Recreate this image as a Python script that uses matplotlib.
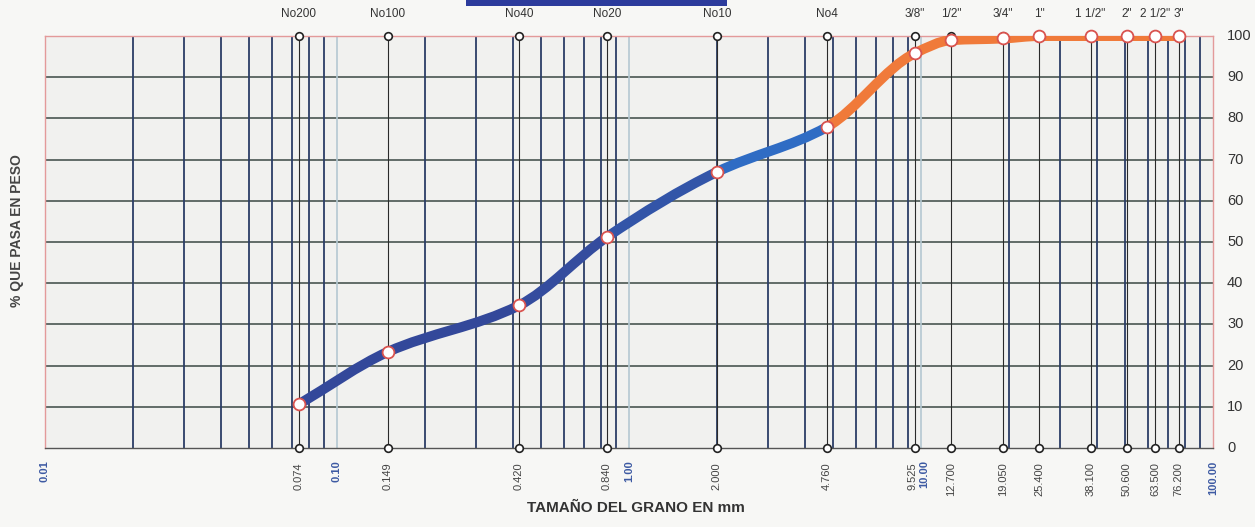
import numpy as np
import matplotlib
matplotlib.use("Agg")
import matplotlib.pyplot as plt
from matplotlib.path import Path
from matplotlib.patches import PathPatch, Rectangle
from matplotlib.transforms import blended_transform_factory, offset_copy

plt.rcParams['font.family'] = ['Liberation Sans', 'DejaVu Sans']

# Sieve openings (mm), sieve names and percent passing
sieve_mm = [0.074, 0.149, 0.420, 0.840, 2.000, 4.760, 9.525, 12.700,
            19.050, 25.400, 38.100, 50.600, 63.500, 76.200]
sieve_names = ['No200', 'No100', 'No40', 'No20', 'No10', 'No4', '3/8"', '1/2"',
               '3/4"', '1"', '1 1/2"', '2"', '2 1/2"', '3"']
sieve_tick_labels = ['0.074', '0.149', '0.420', '0.840', '2.000', '4.760', '9.525',
                     '12.700', '19.050', '25.400', '38.100', '50.600', '63.500', '76.200']
pct_passing = [10.6, 23.3, 34.6, 51.2, 67.0, 77.9, 95.8, 99.0,
               99.4, 100.0, 100.0, 100.0, 100.0, 100.0]
decades = [0.01, 0.1, 1.0, 10.0, 100.0]
decade_labels = ['0.01', '0.10', '1.00', '10.00', '100.00']
y_ticks = [0, 10, 20, 30, 40, 50, 60, 70, 80, 90, 100]

W, H = 1255, 527
fig = plt.figure(figsize=(W / 100, H / 100), dpi=100)
fig.patch.set_facecolor('#f7f7f5')
ax = fig.add_axes([45 / W, (H - 448) / H, (1213 - 45) / W, (448 - 36) / H])
ax.set_facecolor('#f1f1ef')
ax.set_xscale('log')
ax.set_xlim(0.01, 100)
ax.set_ylim(0, 100)

# horizontal grid
for yv in y_ticks[1:-1]:
    ax.axhline(yv, color='#4a5651', lw=1.2, zorder=1)

# minor log lines (2..9 in every decade) and light decade lines
for d in decades[:-1]:
    for k in range(2, 10):
        ax.axvline(d * k, color='#2b3d66', lw=1.3, zorder=1)
    if d > 0.01:
        ax.axvline(d, color='#b4c8d2', lw=1.2, zorder=1)

# sieve lines with end circles
for s in sieve_mm:
    ax.axvline(s, color='#2a2a2a', lw=0.8, zorder=2)
ax.plot(sieve_mm, [100] * len(sieve_mm), 'o', ms=5.5, mfc='white', mec='#222222',
        mew=1.2, zorder=6, clip_on=False)
ax.plot(sieve_mm, [0] * len(sieve_mm), 'o', ms=5.5, mfc='white', mec='#222222',
        mew=1.2, zorder=6, clip_on=False)

# smooth gradation curve: monotone cubic Bezier pieces in log-x space
lx = np.log10(sieve_mm)
yy = np.array(pct_passing)
h = np.diff(lx)
delta = np.diff(yy) / h
m = np.zeros_like(yy)
m[0], m[-1] = delta[0], delta[-1]
for i in range(1, len(yy) - 1):
    if delta[i - 1] * delta[i] <= 0:
        m[i] = 0
    else:
        w1 = 2 * h[i] + h[i - 1]
        w2 = h[i] + 2 * h[i - 1]
        m[i] = (w1 + w2) / (w1 / delta[i - 1] + w2 / delta[i])

seg_colors = ['#33489a', '#33489a', '#344c9e', '#3355a8', '#2f6cc4'] + ['#f07a3a'] * 8
for i in range(len(yy) - 1):
    x0, x1 = lx[i], lx[i + 1]
    verts = [(10 ** x0, yy[i]),
             (10 ** (x0 + h[i] / 3), yy[i] + m[i] * h[i] / 3),
             (10 ** (x1 - h[i] / 3), yy[i + 1] - m[i + 1] * h[i] / 3),
             (10 ** x1, yy[i + 1])]
    p = Path(verts, [Path.MOVETO, Path.CURVE4, Path.CURVE4, Path.CURVE4])
    ax.add_patch(PathPatch(p, fill=False, ec=seg_colors[i], lw=7.2,
                           capstyle='round', zorder=4))

ax.plot(sieve_mm, pct_passing, 'o', ms=8.5, mfc='white', mec='#d9534f', mew=1.3,
        zorder=7, clip_on=False)

# frame
for side in ['top', 'left', 'right']:
    ax.spines[side].set_color('#e39a9a')
    ax.spines[side].set_linewidth(1.0)
ax.spines['bottom'].set_color('#555555')
ax.spines['bottom'].set_linewidth(1.0)

ax.set_xticks([])
ax.set_yticks([])
ax.minorticks_off()

# right-hand percentage labels
for yv in y_ticks:
    ax.text(1.012, yv / 100, str(yv), transform=ax.transAxes, ha='left', va='center',
            fontsize=10.5, color='#333333')

trans = blended_transform_factory(ax.transData, ax.transAxes)
# top sieve names
for s, name in zip(sieve_mm, sieve_names):
    ax.text(s, 1.053, name, transform=trans, ha='center', va='center',
            fontsize=8.5, color='#333333')
# bottom sieve openings
for s, lab in zip(sieve_mm, sieve_tick_labels):
    dx = -2 if lab == '9.525' else 0
    t = offset_copy(trans, fig=fig, x=dx, y=0, units='dots')
    ax.text(s, -0.035, lab, transform=t, ha='center', va='top', rotation=90,
            fontsize=8, color='#444444')
# bottom decade labels
for d, lab in zip(decades, decade_labels):
    dx = 3 if lab == '10.00' else 0
    t = offset_copy(trans, fig=fig, x=dx, y=0, units='dots')
    ax.text(d, -0.03, lab, transform=t, ha='center', va='top', rotation=90,
            fontsize=8, color='#3d5aa3', fontweight='bold')

fig.text(17 / W, 1 - 231 / H, '% QUE PASA EN PESO', rotation=90, ha='center', va='center',
         fontsize=10, fontweight='bold', color='#444444')
fig.text(636 / W, 1 - 508 / H, 'TAMAÑO DEL GRANO EN mm', ha='center', va='center',
         fontsize=11, fontweight='bold', color='#333333')

# header band
fig.add_artist(Rectangle((466 / W, 1 - 6 / H), (727 - 466) / W, 6 / H,
                         transform=fig.transFigure, color='#2c3b9c', lw=0))

fig.savefig('out.png', dpi=100, facecolor=fig.get_facecolor())
